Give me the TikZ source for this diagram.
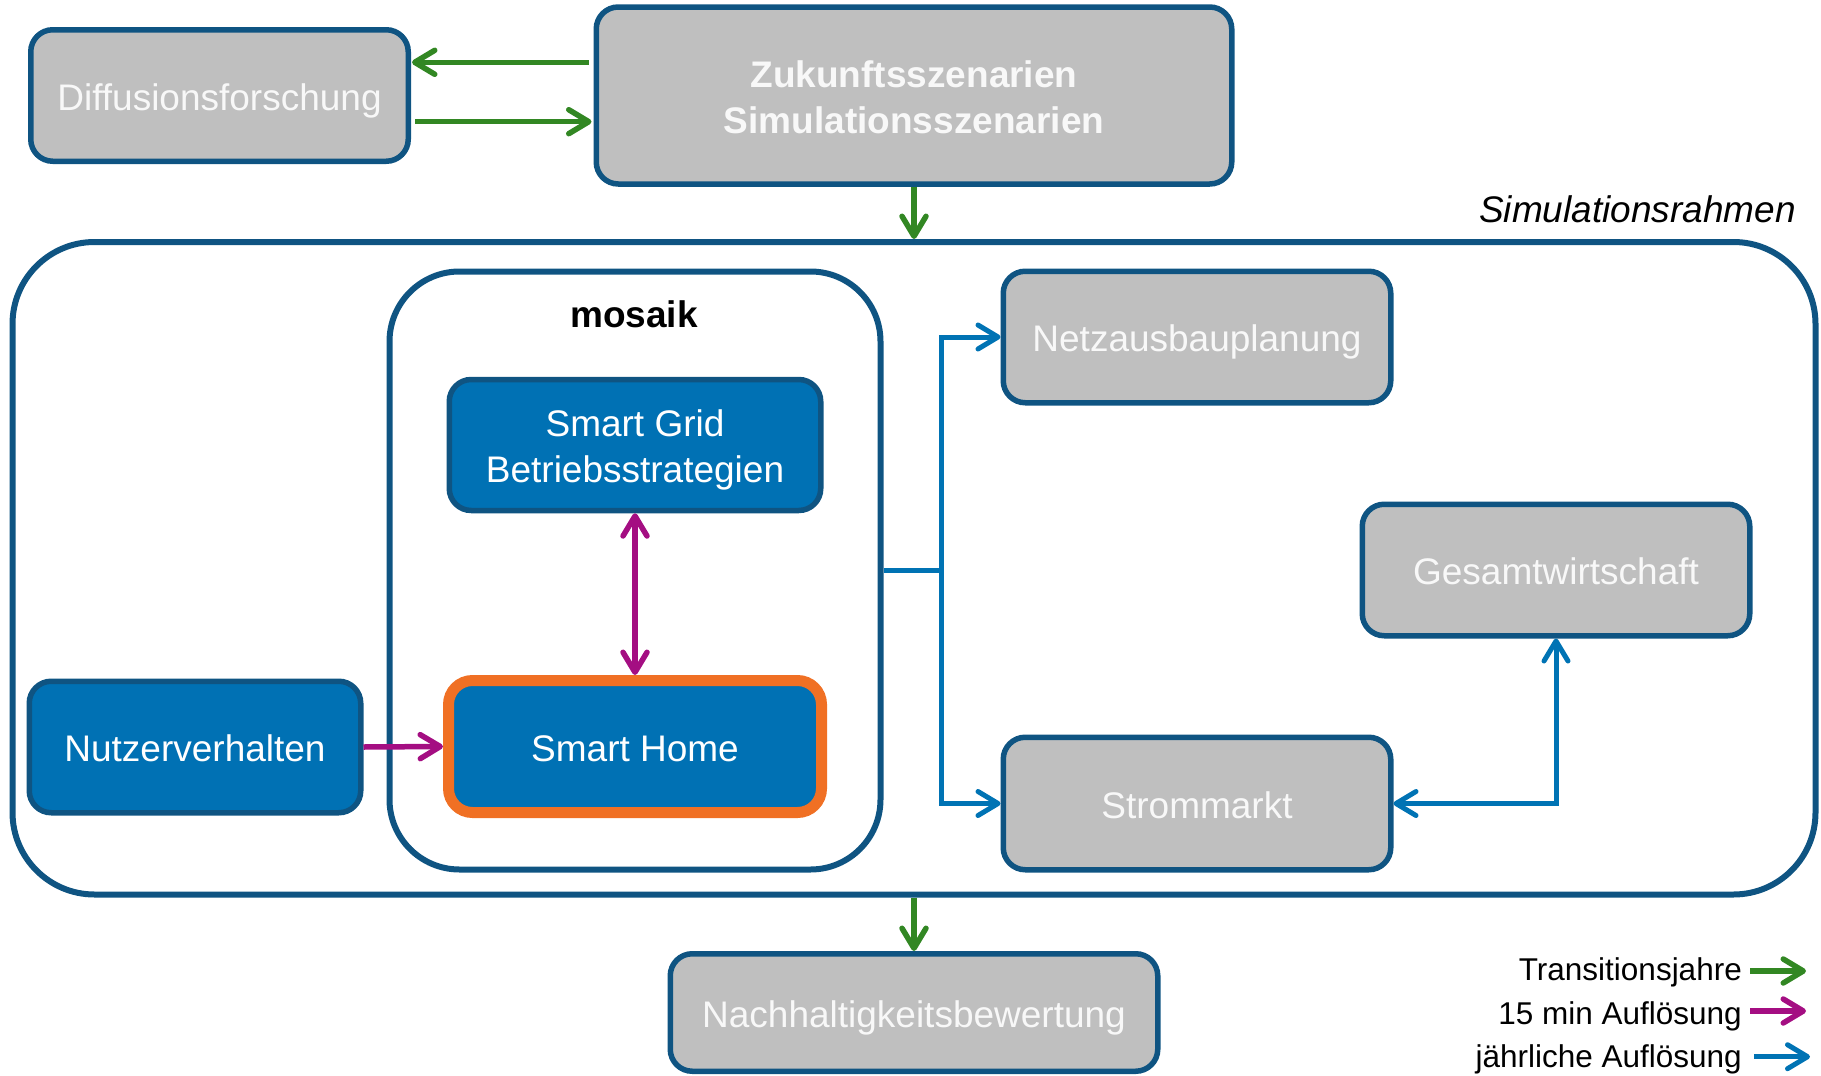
\documentclass[tikz,border=0pt]{standalone}
\usepackage{fontspec}
\setmainfont{Liberation Sans}
\usetikzlibrary{arrows.meta,calc}
\definecolor{bordblue}{RGB}{15,84,130}
\definecolor{greyfill}{RGB}{191,191,191}
\definecolor{bluefill}{RGB}{0,113,180}
\definecolor{hlorange}{RGB}{240,112,36}
\definecolor{arrgreen}{RGB}{50,135,35}
\definecolor{arrmag}{RGB}{164,14,130}
\definecolor{arrblue}{RGB}{0,115,180}
\definecolor{offwhite}{RGB}{248,248,248}
\begin{document}
\begin{tikzpicture}[x=1pt,y=-1pt,
  bigfont/.style={font=\fontsize{37}{46}\selectfont},
  oneline/.style={text height=37pt, text depth=8pt},
  twoline/.style={text height=75pt, text depth=0pt},
  greybox/.style={draw=bordblue, line width=5.5pt, fill=greyfill, rounded corners=22pt,
    inner sep=0pt, text=offwhite, align=center, bigfont},
  bluebox/.style={draw=bordblue, line width=5.5pt, fill=bluefill, rounded corners=22pt,
    inner sep=0pt, text=white, align=center, bigfont},
  frame/.style={draw=bordblue, line width=6pt, inner sep=0pt},
  conn/.style={line width=5.5pt},
  garrow/.style={conn, draw=arrgreen, -{Straight Barb[length=20pt,width=24pt,round]}},
  marrow/.style={conn, draw=arrmag, -{Straight Barb[length=20pt,width=24pt,round]}},
  mdarrow/.style={conn, draw=arrmag, {Straight Barb[length=20pt,width=24pt,round]}-{Straight Barb[length=20pt,width=24pt,round]}},
  barrow/.style={line width=5pt, draw=arrblue, -{Straight Barb[length=20pt,width=24pt,round]}},
  bdarrow/.style={line width=5pt, draw=arrblue, {Straight Barb[length=20pt,width=24pt,round]}-{Straight Barb[length=20pt,width=24pt,round]}},
  bline/.style={line width=5pt, draw=arrblue},
  legtext/.style={anchor=base east, inner sep=0pt, font=\fontsize{31.5}{38}\selectfont}
]
\useasboundingbox (0,0) rectangle (1821,1076);

% frames
\node[frame, rounded corners=82pt, minimum width=1803pt, minimum height=652.5pt] (rahmen) at (914,568.25) {};
\node[frame, rounded corners=70pt, minimum width=491pt, minimum height=598pt] (mosaik) at (635,570.5) {};
\node[font=\fontsize{37}{46}\selectfont\bfseries, inner sep=0pt] (mosaiklabel) at (634,314) {mosaik};
\node[anchor=east, inner sep=0pt, font=\fontsize{37}{46}\selectfont\itshape] (rahmenlabel) at (1796,209) {Simulationsrahmen};

% boxes
\node[greybox, oneline, minimum width=377.5pt, minimum height=131.5pt] (diff) at (219.5,95.5) {Diffusionsforschung};
\node[greybox, twoline, minimum width=635.5pt, minimum height=177pt, font=\fontsize{37}{46}\selectfont\bfseries] (zuk) at (914,95.5) {Zukunftsszenarien\\Simulationsszenarien};
\node[bluebox, twoline, minimum width=371.5pt, minimum height=131pt] (sg) at (635,445) {Smart Grid\\Betriebsstrategien};
\node[bluebox, oneline, draw=hlorange, line width=11pt, minimum width=373pt, minimum height=132pt, rounded corners=24pt] (sh) at (635,746.5) {Smart Home};
\node[bluebox, oneline, minimum width=331.5pt, minimum height=131.5pt] (nutz) at (195,747) {Nutzerverhalten};
\node[greybox, oneline, minimum width=387.5pt, minimum height=131.5pt] (netz) at (1197,337) {Netzausbauplanung};
\node[greybox, oneline, minimum width=387.5pt, minimum height=131.5pt] (ges) at (1556,570) {Gesamtwirtschaft};
\node[greybox, oneline, minimum width=387.5pt, minimum height=132.5pt] (strom) at (1197,803.5) {Strommarkt};
\node[greybox, oneline, minimum width=487.5pt, minimum height=117.5pt] (nach) at (914,1012.5) {Nachhaltigkeitsbewertung};

% green connectors
\draw[garrow] ($(zuk.west)+(-5,-33.2)$) -- ($(diff.east)+(1,-33.2)$);
\draw[garrow] ($(diff.east)+(4,26.2)$) -- ($(zuk.west)+(-2,26.2)$);
\draw[garrow] (zuk.south) -- (rahmen.north);
\draw[garrow] (rahmen.south) -- (nach.north);

% magenta connectors
\draw[mdarrow] (sg.south) -- (sh.north);
\draw[marrow] (nutz.east) -- (sh.west);

% blue connectors
\draw[bline] (mosaik.east) -- ++(58,0) coordinate (junc);
\draw[barrow] (junc) |- (netz.west);
\draw[barrow] (junc) |- (strom.west);
\draw[bdarrow] (strom.east) -| (ges.south);

% legend
\node[legtext] (l1) at (1742,980.5) {Transitionsjahre};
\node[legtext] (l2) at (1742,1024) {15 min Auflösung};
\node[legtext] (l3) at (1742,1067.5) {jährliche Auflösung};
\coordinate (l1a) at (1750,971); \coordinate (l1b) at (1806,971);
\coordinate (l2a) at (1750,1011); \coordinate (l2b) at (1806,1011);
\coordinate (l3a) at (1754,1056.7); \coordinate (l3b) at (1810,1056.7);
\draw[garrow] (l1a) -- (l1b);
\draw[marrow] (l2a) -- (l2b);
\draw[barrow] (l3a) -- (l3b);
\end{tikzpicture}
\end{document}
